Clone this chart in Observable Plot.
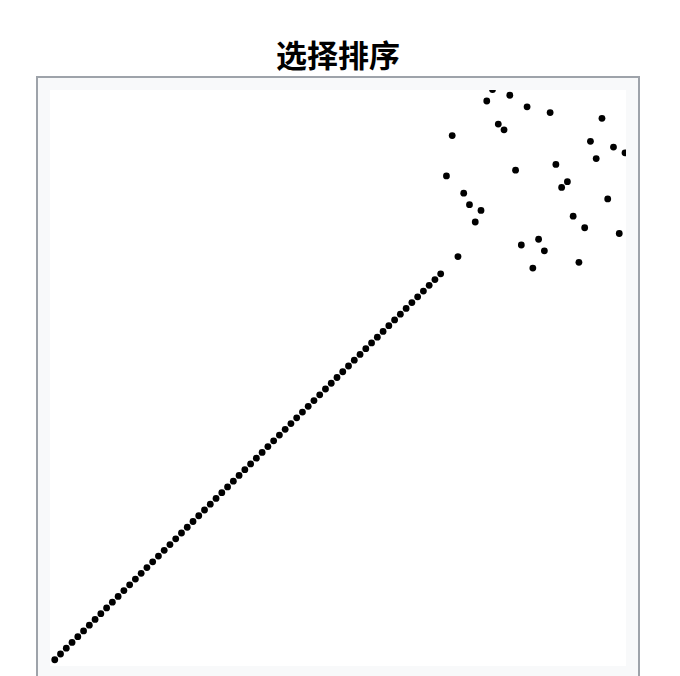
<!DOCTYPE html>
<html>
<head>
<meta charset="utf-8">
<script src="https://cdn.jsdelivr.net/npm/d3@7"></script>
<script src="https://cdn.jsdelivr.net/npm/@observablehq/plot@0.6"></script>
<style>
  html, body { margin: 0; padding: 0; background: white; }
  #title {
    position: absolute; left: 0; top: 38px; width: 676px;
    text-align: center; font-family: "Noto Sans CJK SC", sans-serif;
    font-weight: bold; font-size: 31px; line-height: 31px; color: #000;
  }
  #frame {
    position: absolute; left: 36px; top: 76px; width: 600px; height: 620px;
    border: 2px solid #9ea3aa; background: #f8f9fa;
  }
  #chart {
    position: absolute; left: 12px; top: 12px; width: 576px; height: 576px;
    overflow: hidden; background: white;
  }
</style>
</head>
<body>
<div id="title">选择排序</div>
<div id="frame"><div id="chart"></div></div>
<script>
// Array state during selection sort: value at each position (1-based position = index + 1)
const values = [
  1, 2, 3, 4, 5, 6, 7, 8, 9, 10,
  11, 12, 13, 14, 15, 16, 17, 18, 19, 20,
  21, 22, 23, 24, 25, 26, 27, 28, 29, 30,
  31, 32, 33, 34, 35, 36, 37, 38, 39, 40,
  41, 42, 43, 44, 45, 46, 47, 48, 49, 50,
  51, 52, 53, 54, 55, 56, 57, 58, 59, 60,
  61, 62, 63, 64, 65, 66, 67, 68,
  85, 92, 71, 82, 80, 77, 79, 98, 100, 94,
  93, 99, 86, 73, 97, 69, 74, 72, 96, 87,
  83, 84, 78, 70, 76, 91, 88, 95, 81, 90,
  75, 89
];
const xDomain = [0, 100];
const yDomain = [0, 100];

const data = values.map((v, i) => ({pos: i + 1, value: v}));

const chart = Plot.plot({
  width: 576,
  height: 576,
  margin: 0,
  x: {domain: xDomain, range: [-1.5, 574.5], axis: null},
  y: {domain: yDomain, range: [575, -1], axis: null},
  style: {background: "white", overflow: "hidden"},
  marks: [
    Plot.dot(data, {x: "pos", y: "value", r: 3.4, fill: "black"})
  ]
});
document.getElementById("chart").appendChild(chart);
</script>
</body>
</html>
